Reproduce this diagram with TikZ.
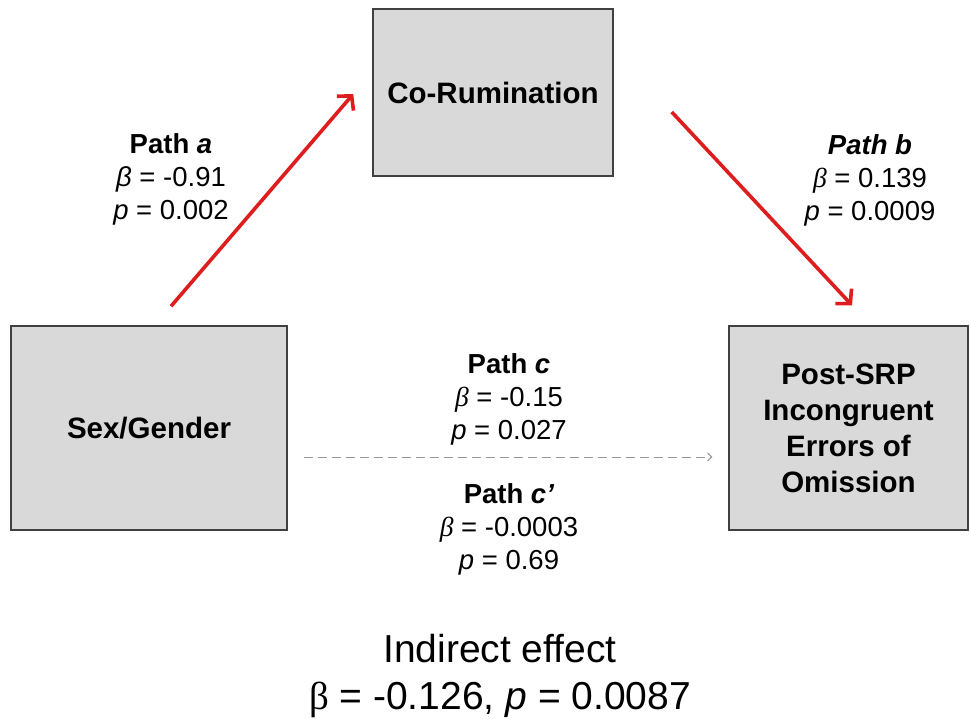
\documentclass[tikz,border=0pt]{standalone}
\usepackage{fontspec}
\setmainfont{Liberation Sans}
\newfontfamily\greekserif{Liberation Serif}
\usetikzlibrary{arrows.meta}

\definecolor{boxfill}{RGB}{217,217,217}
\definecolor{boxline}{RGB}{64,64,64}
\definecolor{pathred}{RGB}{222,30,30}
\definecolor{dashgrey}{RGB}{150,150,150}

\tikzset{
  varbox/.style={draw=boxline, fill=boxfill, line width=1.5pt, inner sep=0pt,
    align=center, font=\fontsize{29.5}{36}\selectfont\bfseries},
  pathlabel/.style={inner sep=0pt, anchor=north, align=center,
    font=\fontsize{27.5}{33}\selectfont},
  redpath/.style={draw=pathred, line width=3.6pt,
    -{Straight Barb[length=10pt,width=22pt]}},
  directpath/.style={draw=dashgrey, line width=1pt, dash pattern=on 9pt off 5pt,
    -{Straight Barb[length=4pt,width=8pt]}}
}

\begin{document}
\begin{tikzpicture}[x=1pt, y=-1pt]
  \useasboundingbox (0,0) rectangle (970,723);

  % variables
  \node[varbox, minimum width=276pt, minimum height=204pt] (sex) at (149,428) {Sex/Gender};
  \node[varbox, minimum width=240pt, minimum height=167pt] (corum) at (493,92.5) {Co-Rumination};
  \node[varbox, minimum width=239pt, minimum height=204pt] (post) at (848.5,428)
    {Post-SRP\\Incongruent\\Errors of\\Omission};

  % mediated paths
  \draw[redpath] ([shift={(22pt,19pt)}]sex.north) -- ([shift={(-19pt,-1.5pt)}]corum.west);
  \draw[redpath] ([shift={(58pt,-19.5pt)}]corum.east) -- ([shift={(3.5pt,20pt)}]post.north);

  % direct path
  \draw[directpath] ([shift={(16pt,-29pt)}]sex.east) -- ([shift={(-16pt,-29pt)}]post.west);

  % coefficients
  \node[pathlabel] (lbla) at (171,133)
    {\textbf{Path \textit{a}}\\\textit{β} = -0.91\\\textit{p} = 0.002};
  \node[pathlabel] (lblb) at (870,134)
    {\textbf{\textit{Path b}}\\{\greekserif\itshape β} = 0.139\\\textit{p} = 0.0009};
  \node[pathlabel] (lblc) at (509,353)
    {\textbf{Path \textit{c}}\\{\greekserif\itshape β} = -0.15\\\textit{p} = 0.027};
  \node[pathlabel] (lblcp) at (509,483)
    {\textbf{Path \textit{c’}}\\{\greekserif\itshape β} = -0.0003\\\textit{p} = 0.69};

  % indirect effect
  \node[inner sep=0pt, anchor=north, align=center, font=\fontsize{39}{47}\selectfont] (indirect) at (500,634)
    {Indirect effect\\{\greekserif β} = -0.126, \textit{p} = 0.0087};
\end{tikzpicture}
\end{document}
